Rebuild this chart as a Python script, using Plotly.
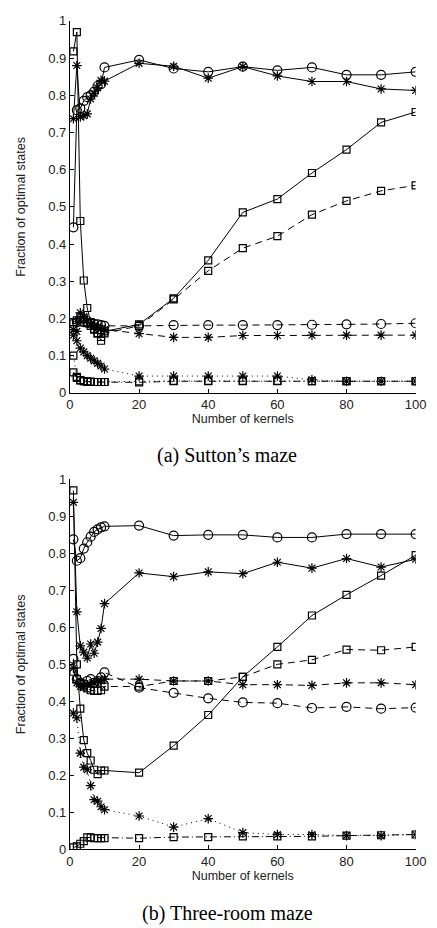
import plotly.graph_objects as go

# number of kernels (shared by every series)
kernels = [1, 2, 3, 4, 5, 6, 7, 8, 9, 10, 20, 30, 40, 50, 60, 70, 80, 90, 100]

# (a) Sutton's maze
a_circle_solid = [0.445, 0.76, 0.765, 0.785, 0.795, 0.80, 0.81, 0.825, 0.83, 0.875, 0.895, 0.872, 0.863, 0.877, 0.867, 0.875, 0.855, 0.855, 0.863]
a_star_solid = [0.737, 0.880, 0.742, 0.745, 0.750, 0.790, 0.805, 0.820, 0.840, 0.838, 0.886, 0.878, 0.846, 0.877, 0.852, 0.837, 0.837, 0.817, 0.813]
a_square_solid = [0.918, 0.970, 0.462, 0.302, 0.228, 0.190, 0.172, 0.160, 0.150, 0.165, 0.184, 0.254, 0.356, 0.485, 0.521, 0.591, 0.654, 0.727, 0.755]
a_square_dash = [0.190, 0.195, 0.205, 0.200, 0.190, 0.180, 0.170, 0.160, 0.140, 0.160, 0.180, 0.251, 0.328, 0.389, 0.421, 0.479, 0.516, 0.543, 0.558]
a_circle_dash = [0.185, 0.190, 0.192, 0.190, 0.188, 0.186, 0.185, 0.184, 0.182, 0.180, 0.180, 0.182, 0.182, 0.182, 0.182, 0.183, 0.184, 0.185, 0.187]
a_star_dash = [0.155, 0.165, 0.215, 0.205, 0.195, 0.185, 0.180, 0.175, 0.172, 0.170, 0.159, 0.149, 0.149, 0.154, 0.154, 0.155, 0.155, 0.155, 0.155]
a_star_dot = [0.170, 0.140, 0.120, 0.110, 0.100, 0.093, 0.086, 0.079, 0.072, 0.064, 0.045, 0.045, 0.045, 0.045, 0.045, 0.035, 0.031, 0.031, 0.031]
a_square_dot = [0.100, 0.043, 0.034, 0.031, 0.030, 0.030, 0.029, 0.029, 0.029, 0.029, 0.031, 0.032, 0.032, 0.032, 0.032, 0.031, 0.031, 0.031, 0.031]
a_square_dashdot = [0.055, 0.040, 0.033, 0.031, 0.030, 0.029, 0.029, 0.029, 0.029, 0.029, 0.028, 0.031, 0.031, 0.031, 0.031, 0.031, 0.031, 0.031, 0.031]

# (b) Three-room maze
b_circle_solid = [0.838, 0.780, 0.787, 0.813, 0.830, 0.845, 0.858, 0.865, 0.870, 0.873, 0.875, 0.848, 0.850, 0.850, 0.843, 0.843, 0.852, 0.852, 0.852]
b_star_solid = [0.938, 0.642, 0.550, 0.533, 0.517, 0.555, 0.530, 0.560, 0.597, 0.664, 0.747, 0.737, 0.750, 0.745, 0.776, 0.760, 0.786, 0.763, 0.784]
b_square_solid = [0.970, 0.500, 0.380, 0.295, 0.260, 0.240, 0.215, 0.203, 0.213, 0.213, 0.207, 0.280, 0.363, 0.466, 0.547, 0.632, 0.688, 0.740, 0.795]
b_square_dash = [0.480, 0.460, 0.450, 0.440, 0.435, 0.430, 0.428, 0.428, 0.430, 0.440, 0.440, 0.455, 0.455, 0.466, 0.500, 0.512, 0.540, 0.538, 0.547]
b_circle_dash = [0.515, 0.460, 0.450, 0.445, 0.455, 0.460, 0.450, 0.455, 0.465, 0.478, 0.437, 0.423, 0.408, 0.397, 0.395, 0.382, 0.385, 0.380, 0.383]
b_star_dash = [0.490, 0.450, 0.440, 0.440, 0.445, 0.445, 0.450, 0.455, 0.455, 0.460, 0.460, 0.455, 0.455, 0.445, 0.445, 0.443, 0.450, 0.450, 0.445]
b_star_dot = [0.368, 0.355, 0.260, 0.222, 0.215, 0.172, 0.134, 0.130, 0.115, 0.107, 0.090, 0.060, 0.083, 0.045, 0.040, 0.040, 0.037, 0.037, 0.040]
b_square_dashdot = [0.005, 0.008, 0.015, 0.022, 0.032, 0.032, 0.030, 0.030, 0.030, 0.030, 0.030, 0.033, 0.033, 0.035, 0.035, 0.035, 0.037, 0.038, 0.040]

x_ticks = [0, 20, 40, 60, 80, 100]
y_ticks = [0, 0.1, 0.2, 0.3, 0.4, 0.5, 0.6, 0.7, 0.8, 0.9, 1]
y_tick_text = ["0", "0.1", "0.2", "0.3", "0.4", "0.5", "0.6", "0.7", "0.8", "0.9", "1"]

SYMBOLS = {"circle": ("circle-open", 9), "star": ("asterisk-open", 8), "square": ("square-open", 7)}
DASHES = {"solid": "solid", "dash": "7px,5px", "dot": "1px,4px", "dashdot": "7px,3px,1px,3px"}


def add_series(fig, y, marker, dash, axis):
    sym, size = SYMBOLS[marker]
    fig.add_trace(go.Scatter(
        x=kernels, y=y, mode="lines+markers",
        line=dict(color="black", width=1, dash=DASHES[dash]),
        marker=dict(symbol=sym, size=size, color="black", line=dict(color="black", width=1.2)),
        xaxis="x" + axis, yaxis="y" + axis, showlegend=False,
    ))


fig = go.Figure()

top = [
    (a_square_dot, "square", "dot"),
    (a_square_dashdot, "square", "dashdot"),
    (a_star_dot, "star", "dot"),
    (a_circle_dash, "circle", "dash"),
    (a_star_dash, "star", "dash"),
    (a_square_dash, "square", "dash"),
    (a_square_solid, "square", "solid"),
    (a_star_solid, "star", "solid"),
    (a_circle_solid, "circle", "solid"),
]
bottom = [
    (b_square_dashdot, "square", "dashdot"),
    (b_star_dot, "star", "dot"),
    (b_circle_dash, "circle", "dash"),
    (b_star_dash, "star", "dash"),
    (b_square_dash, "square", "dash"),
    (b_square_solid, "square", "solid"),
    (b_star_solid, "star", "solid"),
    (b_circle_solid, "circle", "solid"),
]
for y, m, d in top:
    add_series(fig, y, m, d, "")
for y, m, d in bottom:
    add_series(fig, y, m, d, "2")

W, H = 437, 928
xdom = [60 / W, 418 / W]
axis_font = dict(family="Liberation Sans, Arial", size=13, color="#222")

xa = dict(range=[0, 100], tickvals=x_ticks, domain=xdom, showline=True, linecolor="black",
          linewidth=1, ticks="inside", ticklen=4, tickcolor="black", showgrid=False,
          zeroline=False, tickfont=axis_font, mirror=False)
ya = dict(range=[0, 1], tickvals=y_ticks, ticktext=y_tick_text, showline=True, linecolor="black",
          linewidth=1, ticks="inside", ticklen=4, tickcolor="black", showgrid=False,
          zeroline=False, tickfont=axis_font, mirror=False)

title_font = dict(family="Liberation Sans, Arial", size=12.5, color="#222")

fig.update_layout(
    width=W, height=H,
    margin=dict(l=0, r=0, t=0, b=0),
    paper_bgcolor="white", plot_bgcolor="white",
    xaxis=dict(xa, anchor="y", title=dict(text="Number of kernels", font=title_font, standoff=0)),
    yaxis=dict(ya, anchor="x", domain=[1 - 384 / H, 1 - 6 / H],
               title=dict(text="Fraction of optimal states", font=title_font, standoff=19)),
    xaxis2=dict(xa, anchor="y2", title=dict(text="Number of kernels", font=title_font, standoff=0)),
    yaxis2=dict(ya, anchor="x2", domain=[1 - 848 / H, 1 - 472 / H],
                title=dict(text="Fraction of optimal states", font=title_font, standoff=19)),
)

cap_font = dict(family="Liberation Serif, Times New Roman", size=20, color="black")
fig.add_annotation(text="(a) Sutton\u2019s maze", x=223 / W, y=1 - 448 / H, xref="paper", yref="paper",
                   showarrow=False, font=cap_font, xanchor="center", yanchor="middle")
fig.add_annotation(text="(b) Three-room maze", x=223 / W, y=1 - 913 / H, xref="paper", yref="paper",
                   showarrow=False, font=cap_font, xanchor="center", yanchor="middle")

fig.write_html("out.html")
